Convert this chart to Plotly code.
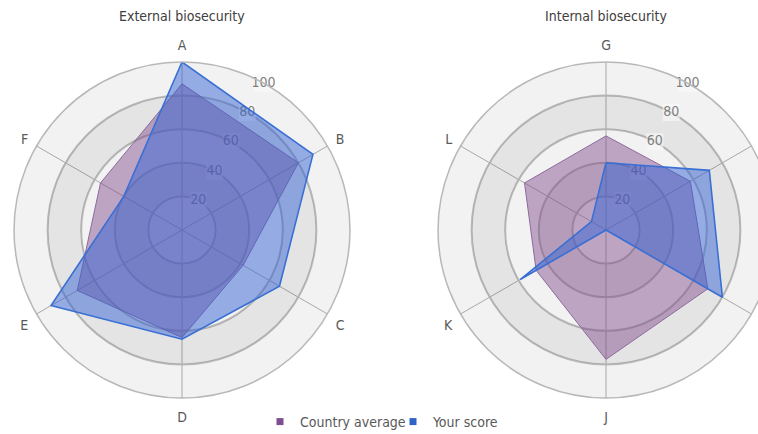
import plotly.graph_objects as go

# ---- data ----
ext_categories = ["A", "B", "C", "D", "E", "F"]
ext_country = [87, 80, 42, 64, 72, 56]
ext_score = [100, 90, 67, 65, 90, 40]

int_categories = ["G", "H", "I", "J", "K", "L"]
int_country = [56, 58, 70, 77, 48, 56]
int_score = [40, 71, 80, 0, 59, 10]

radial_ticks = [20, 40, 60, 80, 100]
radial_tick_labels = ["20", "40", "60", "80", "100"]
titles = ["External biosecurity", "Internal biosecurity"]
series_names = ["Country average", "Your score"]

# ---- style ----
W, H = 780, 434
FONT = "DejaVu Sans Condensed, Liberation Sans Narrow, Open Sans, sans-serif"
purple_fill = "rgba(126,72,140,0.46)"
purple_line = "#8c6a9c"
blue_fill = "rgba(46,96,212,0.48)"
blue_line = "#3a6fd4"
band_color = "rgba(0,0,0,0.055)"
LABEL_DIR = 29  # direction (deg, clockwise from top) of radial tick labels

fig = go.Figure()

def closed(v):
    return list(v) + [v[0]]

def angles(cats):
    return [i * 360 / len(cats) for i in range(len(cats))]

panels = [
    ("polar", ext_categories, ext_country, ext_score),
    ("polar2", int_categories, int_country, int_score),
]

for sub, cats, country, score in panels:
    th = angles(cats)
    for base in (60, 20):
        fig.add_trace(go.Barpolar(
            theta=th, r=[20] * len(cats), base=[base] * len(cats),
            width=[360 / len(cats)] * len(cats),
            marker=dict(color=band_color, line=dict(width=0)),
            hoverinfo="skip", showlegend=False, subplot=sub,
        ))
    # radial tick labels (below the series, like the original)
    fig.add_trace(go.Scatterpolar(
        theta=[LABEL_DIR] * len(radial_ticks), r=radial_ticks,
        text=radial_tick_labels, mode="markers+text", textposition="middle center",
        marker=dict(symbol="square", size=[17, 17, 17, 17, 19],
                    color="rgba(248,248,248,0.9)", line=dict(width=0)),
        textfont=dict(family=FONT, size=14, color="#7f7f7f"),
        hoverinfo="skip", showlegend=False, subplot=sub,
    ))
    fig.add_trace(go.Scatterpolar(
        theta=closed(th), r=closed(country), fill="toself",
        fillcolor=purple_fill, line=dict(color=purple_line, width=1),
        mode="lines", name=series_names[0], showlegend=False, subplot=sub,
    ))
    fig.add_trace(go.Scatterpolar(
        theta=closed(th), r=closed(score), fill="toself",
        fillcolor=blue_fill, line=dict(color=blue_line, width=1.6),
        mode="lines", name=series_names[1], showlegend=False, subplot=sub,
    ))

fig.add_trace(go.Scatterpolar(theta=[None], r=[None], mode="markers",
                              marker=dict(symbol="square", size=7, color="#7d4f90"),
                              name=series_names[0], subplot="polar"))
fig.add_trace(go.Scatterpolar(theta=[None], r=[None], mode="markers",
                              marker=dict(symbol="square", size=7, color="#2f63c8"),
                              name=series_names[1], subplot="polar"))

def polar_layout(x0, x1, cats):
    return dict(
        domain=dict(x=[x0 / W, x1 / W], y=[(H - 398) / H, (H - 62) / H]),
        bgcolor="#f2f2f2",
        bargap=0,
        radialaxis=dict(range=[0, 100], tickvals=radial_ticks, showline=False,
                        showticklabels=False, ticks="",
                        gridcolor="#b8b8b8", gridwidth=1.5),
        angularaxis=dict(type="linear", thetaunit="degrees", rotation=90,
                         direction="clockwise",
                         tickvals=angles(cats), ticktext=cats,
                         gridcolor="#a8a8a8", gridwidth=1.3, showline=True,
                         linecolor="#b8b8b8", linewidth=1.5, ticks="outside",
                         ticklen=6, tickcolor="rgba(0,0,0,0)",
                         tickfont=dict(family=FONT, size=14, color="#595959")),
    )

fig.update_layout(
    width=W, height=H,
    margin=dict(l=0, r=0, t=0, b=0, autoexpand=False),
    paper_bgcolor="white",
    font=dict(family=FONT, size=14, color="#595959"),
    polar=polar_layout(14, 350, ext_categories),
    polar2=polar_layout(438, 774, int_categories),
    showlegend=True,
    legend=dict(orientation="h", x=393 / W, xanchor="center", y=1 - 422 / H,
                yanchor="middle", font=dict(family=FONT, size=14, color="#595959"),
                itemwidth=30, entrywidth=88, bgcolor="rgba(0,0,0,0)"),
    annotations=[
        dict(text=titles[0], x=182 / W, y=1 - 16 / H, xref="paper", yref="paper",
             showarrow=False, xanchor="center", yanchor="middle",
             font=dict(family=FONT, size=14, color="#404040")),
        dict(text=titles[1], x=606 / W, y=1 - 16 / H, xref="paper", yref="paper",
             showarrow=False, xanchor="center", yanchor="middle",
             font=dict(family=FONT, size=14, color="#404040")),
    ],
)

post = ("document.documentElement.style.overflow='hidden';"
        "document.body.style.overflow='hidden';document.body.style.margin='0';")
fig.write_html("out.html", post_script=post, config={"displayModeBar": False})
